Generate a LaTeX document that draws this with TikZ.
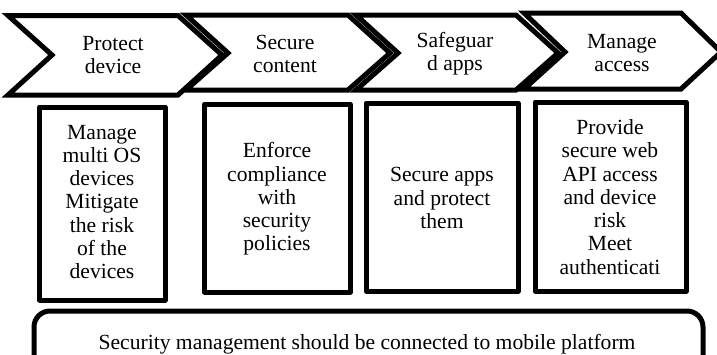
\documentclass[tikz,border=0pt]{standalone}
\usepackage{fontspec}
\setmainfont{Liberation Serif}
\begin{document}
\begin{tikzpicture}[x=1pt,y=-1pt,
  chev/.style={draw=black,line width=5pt,line join=miter},
  stepbox/.style={draw=black,line width=5pt,line join=round},
  lbl/.style={align=center,inner sep=0pt,font=\fontsize{21.6}{23.3}\selectfont},
  base/.style={draw=black,line width=5pt,rounded corners=16pt}]
\useasboundingbox (0,0) rectangle (717,354);
\clip (0,0) rectangle (717,354);
\fill[white] (0,0) rectangle (717,354);
% chevrons
\draw[chev] (8,15.5) -- (178,15.5) -- (222,55) -- (178,95) -- (8,95) -- (52,55) -- cycle;
\draw[chev] (186,15) -- (348,15) -- (390,53) -- (348,90) -- (186,90) -- (228,53) -- cycle;
\draw[chev] (356,15) -- (516,15) -- (558,53) -- (516,90) -- (356,90) -- (398,53) -- cycle;
\draw[chev] (524,13) -- (681,13) -- (721,52) -- (681,89) -- (524,89) -- (565,52) -- cycle;
\node[lbl] (c1) at (113,55) {Protect\\device};
\node[lbl] (c2) at (285,54) {Secure\\content};
\node[lbl] (c3) at (455,54) {Safeguar\\d apps};
\node[lbl] (c4) at (622,53) {Manage\\access};
% boxes
\draw[stepbox] (39.5,107) rectangle (165,300);
\draw[stepbox] (204.5,104) rectangle (350,292);
\draw[stepbox] (366,103) rectangle (518,291);
\draw[stepbox] (535,102) rectangle (686,291);
\node[lbl] (b1) at (102,202) {Manage\\multi OS\\devices\\Mitigate\\the risk\\of the\\devices};
\node[lbl] (b2) at (277,199) {Enforce\\compliance\\with\\security\\policies};
\node[lbl] (b3) at (442,198) {Secure apps\\and protect\\them};
\node[lbl] (b4) at (610,197) {Provide\\secure web\\API access\\and device\\risk\\Meet\\authenticati};
% bottom
\draw[base] (34,311) rectangle (703,400);
\node[lbl] (bot) at (367,344) {Security management should be connected to mobile platform};
\end{tikzpicture}
\end{document}
